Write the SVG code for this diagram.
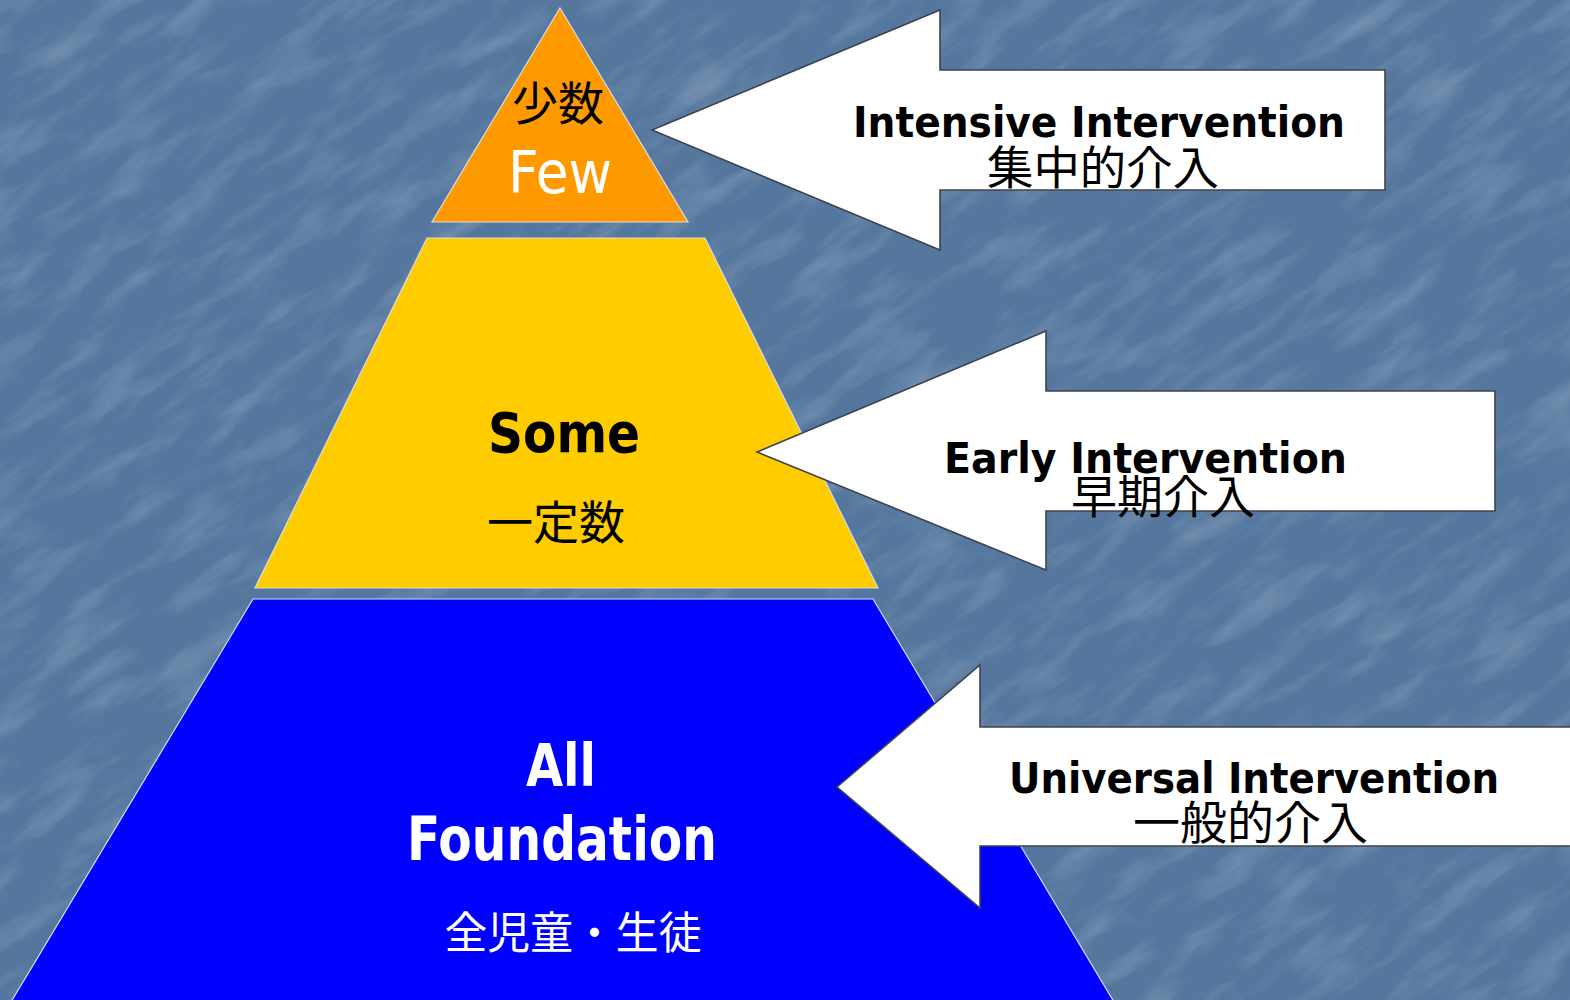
<svg xmlns="http://www.w3.org/2000/svg" width="1570" height="1000" viewBox="0 0 1570 1000">
  <defs>
    <!-- mottled, slightly streaky texture for the slate-blue backdrop -->
    <filter id="grain" x="0" y="0" width="100%" height="100%" filterUnits="objectBoundingBox">
      <feTurbulence type="fractalNoise" baseFrequency="0.012 0.04" numOctaves="4" seed="11"/>
      <feColorMatrix type="matrix" values="0 0 0 0 1  0 0 0 0 1  0 0 0 0 1  1.5 0 0 0 -0.68"/>
    </filter>
    <style>
      .tier { stroke: #d8dde6; stroke-width: 1.2; }
      .arrow { fill: #ffffff; stroke: #3c4450; stroke-width: 1.6; stroke-linejoin: miter; }
      .en { font-family: "DejaVu Sans", "Liberation Sans", sans-serif; font-weight: bold; fill: #000; }
      .jp { font-family: "Noto Sans CJK JP", "Noto Sans CJK SC", sans-serif; fill: #000; }
      .light { fill: #ffffff; }
    </style>
  </defs>

  <!-- backdrop -->
  <rect x="0" y="0" width="1570" height="1000" fill="#55779e"/>
  <g transform="rotate(-35 785 500)" opacity="0.26">
    <rect x="-500" y="-600" width="2600" height="2200" filter="url(#grain)"/>
  </g>

  <!-- pyramid tiers -->
  <g id="tier-few">
    <polygon class="tier" points="560,8 688,222 432,222" fill="#ff9900"/>
    <text class="jp" x="558" y="120" font-size="46" text-anchor="middle">少数</text>
    <text x="560" y="193" font-family="'DejaVu Sans', 'Liberation Sans', sans-serif" font-size="58" fill="#ffffff" text-anchor="middle" textLength="104" lengthAdjust="spacingAndGlyphs">Few</text>
  </g>

  <g id="tier-some">
    <polygon class="tier" points="427,238 705,238 878,588 255,588" fill="#ffcc00"/>
    <text class="en" x="564" y="452" font-size="56" text-anchor="middle" textLength="152" lengthAdjust="spacingAndGlyphs">Some</text>
    <text class="jp" x="556" y="539" font-size="46" text-anchor="middle">一定数</text>
  </g>

  <g id="tier-all">
    <polygon class="tier" points="253,599 873,599 1114,1002 11,1002" fill="#0000ff"/>
    <text class="en light" x="561" y="786" font-size="58" text-anchor="middle" textLength="70" lengthAdjust="spacingAndGlyphs">All</text>
    <text class="en light" x="562" y="860" font-size="60" text-anchor="middle" textLength="310" lengthAdjust="spacingAndGlyphs">Foundation</text>
    <text class="jp light" x="573" y="949" font-size="44" text-anchor="middle" textLength="257" lengthAdjust="spacingAndGlyphs">全児童・生徒</text>
  </g>

  <!-- block arrows pointing at the tiers -->
  <g id="connectors">
    <g id="arrow-intensive">
      <polygon class="arrow" points="652,130 940,10 940,70 1385,70 1385,190 940,190 940,250"/>
      <text class="en" x="853" y="137" font-size="42" textLength="492" lengthAdjust="spacingAndGlyphs">Intensive Intervention</text>
      <text class="jp" x="987" y="184" font-size="46" textLength="232" lengthAdjust="spacingAndGlyphs">集中的介入</text>
    </g>
    <g id="arrow-early">
      <polygon class="arrow" points="757,452 1046,331 1046,391 1495,391 1495,511 1046,511 1046,570"/>
      <text class="en" x="944" y="473" font-size="43" textLength="403" lengthAdjust="spacingAndGlyphs">Early Intervention</text>
      <text class="jp" x="1071" y="513" font-size="46" textLength="184" lengthAdjust="spacingAndGlyphs">早期介入</text>
    </g>
    <g id="arrow-universal">
      <polygon class="arrow" points="837,787 980,665 980,727 1572,727 1572,846 980,846 980,908"/>
      <text class="en" x="1009" y="793" font-size="42" textLength="490" lengthAdjust="spacingAndGlyphs">Universal Intervention</text>
      <text class="jp" x="1133" y="839" font-size="46" textLength="235" lengthAdjust="spacingAndGlyphs">一般的介入</text>
    </g>
  </g>
</svg>
